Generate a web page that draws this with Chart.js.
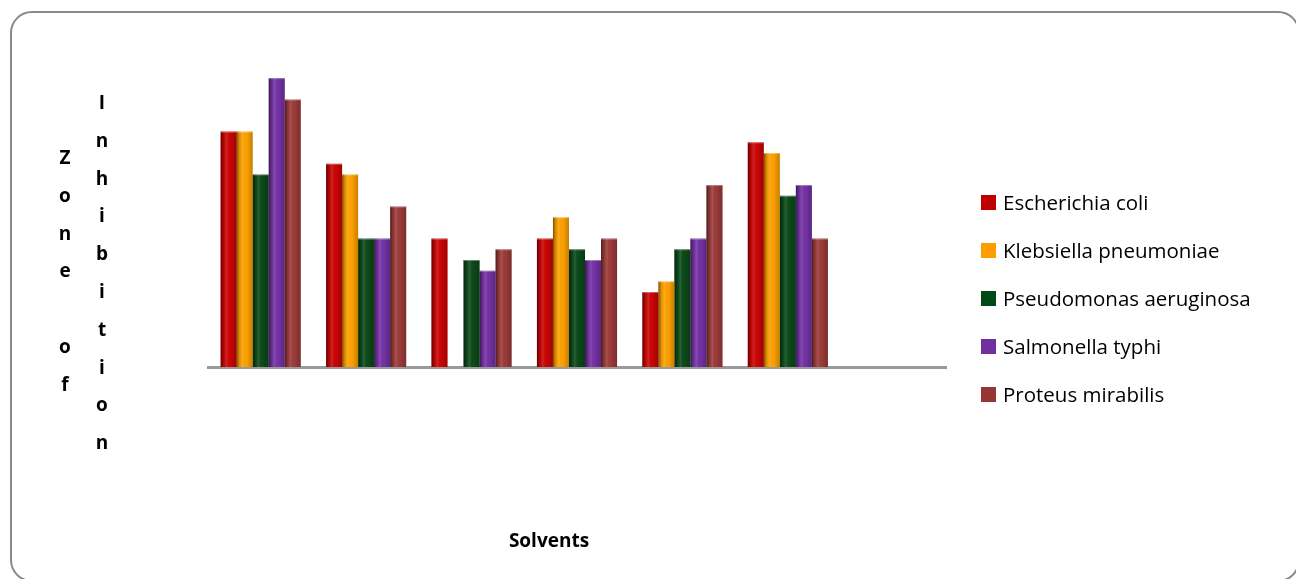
<!DOCTYPE html>
<html>
<head>
<meta charset="utf-8">
<script src="https://cdn.jsdelivr.net/npm/chart.js@4/dist/chart.umd.min.js"></script>
<style>
    html, body { margin: 0; padding: 0; background: #fff; }
    body { width: 1296px; height: 579px; position: relative; overflow: hidden; font-family: "Open Sans", Lato, sans-serif; }
    #frame {
        position: absolute; left: 10px; top: 11px; width: 1286px; height: 567px;
        border: 2px solid #8a8a8a; border-radius: 22px;
    }
    #chart { position: absolute; left: 0; top: 0; }
    .ytitle { position: absolute; font-weight: bold; font-size: 19px; color: #000; text-align: center; width: 20px; line-height: 37.8px; }
    #xtitle { position: absolute; left: 449px; width: 200px; text-align: center; top: 527px; font-weight: bold; font-size: 19px; color: #000; }
    #legend { position: absolute; left: 981px; top: 0; }
    .item { position: absolute; left: 0; height: 30px; line-height: 30px; white-space: nowrap; font-size: 20.5px; color: #000; }
    .item span.box { display: inline-block; width: 15px; height: 15px; vertical-align: middle; margin-right: 7px; position: relative; top: -2px; }
</style>
</head>
<body>
<div id="frame"></div>
<canvas id="chart" width="1296" height="579"></canvas>
<div class="ytitle" id="ycol1" style="left:55px; top:139px;"></div>
<div class="ytitle" id="ycol2" style="left:92px; top:84px;"></div>
<div id="xtitle">Solvents</div>
<div id="legend"></div>

<script>
// data
const solvents = ['Solvent 1', 'Solvent 2', 'Solvent 3', 'Solvent 4', 'Solvent 5', 'Solvent 6', ''];
const seriesNames = ['Escherichia coli', 'Klebsiella pneumoniae', 'Pseudomonas aeruginosa', 'Salmonella typhi', 'Proteus mirabilis'];
const ecoli = [22, 19, 12, 12, 7, 21];
const klebsiella = [22, 18, 0, 14, 8, 20];
const pseudomonas = [18, 12, 10, 11, 11, 16];
const salmonella = [27, 12, 9, 10, 12, 17];
const proteus = [25, 15, 11, 12, 17, 12];
const yMax = 30;

const barColors = ['#cc0404', '#ffa200', '#0b4a19', '#7432a6', '#9c3b3a'];
const legendColors = ['#c00000', '#ff9c00', '#004a16', '#7030a0', '#963634'];

// judul sumbu Y (huruf bertumpuk)
document.getElementById('ycol1').innerHTML = ['Z', 'o', 'n', 'e', '&nbsp;', 'o', 'f'].map(c => `<div>${c}</div>`).join('');
document.getElementById('ycol2').innerHTML = 'Inhibition'.split('').map(c => `<div>${c}</div>`).join('');

// legenda
const legendBox = document.getElementById('legend');
legendBox.innerHTML = seriesNames.map((name, i) => `
    <div class="item" style="top:${187 + i * 48}px"><span class="box" style="background:${legendColors[i]}"></span>${name}</div>
`).join('');

// efek silinder pada batang
const shadePlugin = {
    id: 'shade',
    afterDatasetsDraw(chart) {
        const ctx = chart.ctx;
        chart.data.datasets.forEach((ds, di) => {
            chart.getDatasetMeta(di).data.forEach(bar => {
                const h = bar.base - bar.y;
                if (h <= 0) return;
                const left = bar.x - bar.width / 2;
                const g = ctx.createLinearGradient(left, 0, left + bar.width, 0);
                g.addColorStop(0, 'rgba(0,0,0,0.5)');
                g.addColorStop(0.18, 'rgba(0,0,0,0.12)');
                g.addColorStop(0.38, 'rgba(255,255,255,0.12)');
                g.addColorStop(0.6, 'rgba(0,0,0,0)');
                g.addColorStop(1, 'rgba(0,0,0,0.22)');
                ctx.save();
                ctx.fillStyle = g;
                ctx.fillRect(left, bar.y, bar.width, h);
                ctx.fillStyle = 'rgba(255,255,255,0.35)';
                ctx.fillRect(left, bar.y, bar.width, 1);
                ctx.restore();
            });
        });
    }
};

const chartCtx = document.getElementById('chart').getContext('2d');
const zoneChart = new Chart(chartCtx, {
    type: 'bar',
    data: {
        labels: solvents,
        datasets: [ecoli, klebsiella, pseudomonas, salmonella, proteus].map((values, i) => ({
            label: seriesNames[i],
            data: values,
            backgroundColor: barColors[i],
            borderWidth: 0,
            categoryPercentage: 0.76,
            barPercentage: 1
        }))
    },
    options: {
        responsive: false,
        animation: false,
        layout: {
            padding: { left: 208, right: 350, top: 46, bottom: 212 }
        },
        plugins: {
            legend: { display: false },
            tooltip: { enabled: false }
        },
        scales: {
            x: {
                grid: { display: false, drawTicks: false },
                border: { display: true, color: '#9a9a9a', width: 3 },
                ticks: { display: false }
            },
            y: {
                display: false,
                min: 0,
                max: yMax
            }
        }
    },
    plugins: [shadePlugin]
});
</script>
</body>
</html>
